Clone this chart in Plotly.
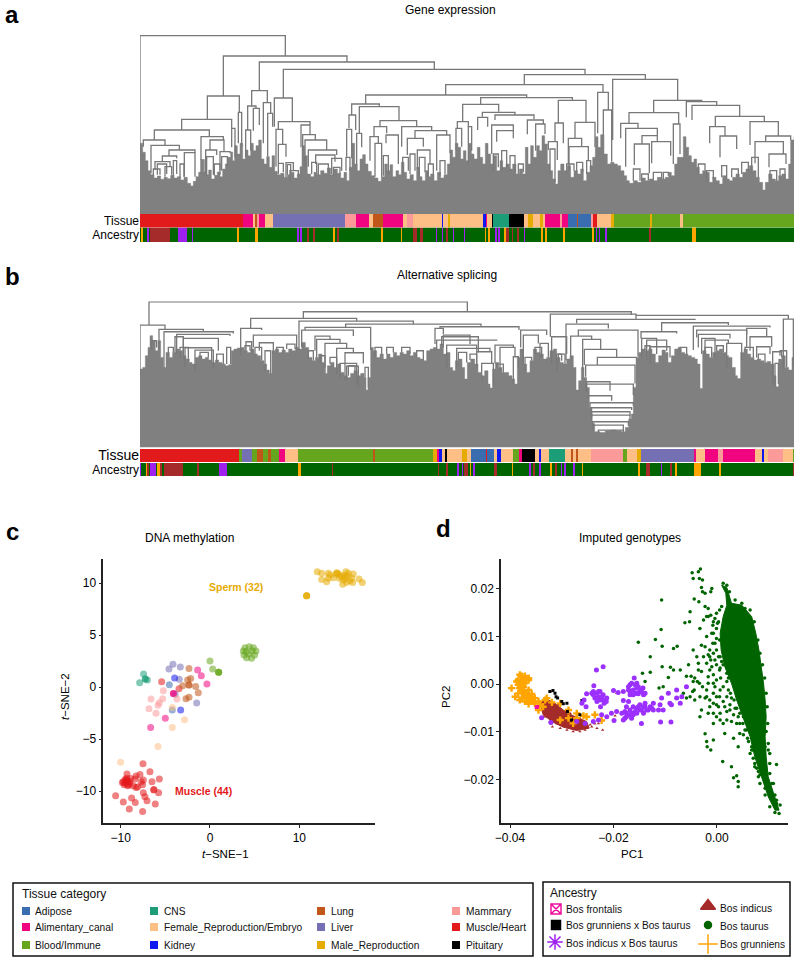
import plotly.graph_objects as go

FONT = "Liberation Sans, Arial, sans-serif"
GREY = "#808080"
W, H = 800, 962

# tissue and ancestry categories
tissue_names = ["Adipose", "Alimentary_canal", "Blood/Immune", "CNS", "Female_Reproduction/Embryo", "Kidney",
                "Lung", "Liver", "Male_Reproduction", "Mammary", "Muscle/Heart", "Pituitary"]
tissue_colors = ["#3A6DB0", "#F0047F", "#66A61E", "#1B9E77", "#FDBF86", "#1018F0",
                 "#C0561A", "#7570B3", "#E6AB02", "#FB9A99", "#E31A1C", "#000000"]
anc_names = ["Bos frontalis", "Bos grunniens x Bos taurus", "Bos indicus x Bos taurus",
             "Bos indicus", "Bos taurus", "Bos grunniens"]
anc_colors = ["#F0109F", "#000000", "#A020F0", "#A52A2A", "#006400", "#FFA500"]

AD, AL, BL, CN, FE, KI, LU, LI, MA, MM, MU, PI = range(12)
FR, BX, IX, IN, TA, GR = range(6)

# --- panel a: gene expression, links are (left, right, height, left end, right end)
expr_links = [
    (420, 856, 535, 212, 474), (670, 1041, 474, 354, 456), (778, 1303, 456, 370, 434), (850, 1755, 434, 348, 418),
    (1573, 1936, 418, 388, 404), (1337, 1809, 388, 357, 365), (1097, 1580, 357, 330, 350), (1442, 1717, 349, 329, 341),
    (1388, 1496, 329, 277, 307), (1675, 1758, 341, 273, 275), (622, 718, 354, 284, 305), (545, 695, 284, 252, 257),
    (463, 628, 252, 222, 232), (430, 495, 222, 202, 206), (453, 538, 206, 122, 192), (507, 585, 192, 174, 184),
    (487, 530, 174, 157, 167), (465, 510, 157, 132, 142), (553, 585, 184, 112, 112), (603, 670, 232, 162, 222),
    (630, 672, 222, 192, 187), (617, 650, 192, 122, 177), (660, 690, 187, 132, 182), (695, 705, 257, 200, 170),
    (715, 725, 305, 212, 202), (755, 802, 370, 324, 334), (743, 768, 324, 252, 317), (760, 778, 317, 250, 267),
    (737, 752, 252, 170, 190), (790, 812, 334, 212, 302), (803, 818, 302, 172, 262), (823, 877, 348, 262, 277),
    (835, 930, 277, 254, 267), (903, 930, 267, 200, 238), (908, 946, 238, 192, 222), (915, 980, 222, 142, 192),
    (925, 1010, 192, 142, 177), (947, 1005, 177, 150, 157), (828, 848, 254, 142, 207), (835, 858, 209, 152, 172),
    (858, 880, 154, 110, 132), (995, 1025, 167, 120, 130), (1055, 1138, 330, 297, 322), (1047, 1067, 297, 257, 252),
    (1040, 1055, 254, 172, 167), (1078, 1197, 322, 242, 280), (1070, 1085, 242, 150, 200), (1140, 1250, 280, 262, 262),
    (1122, 1160, 262, 232, 242), (1110, 1135, 232, 160, 212), (1125, 1145, 212, 112, 112), (1158, 1195, 237, 212, 150),
    (1205, 1295, 262, 202, 250), (1245, 1340, 250, 227, 237), (1222, 1270, 227, 177, 202), (1252, 1290, 192, 135, 150),
    (1310, 1350, 237, 130, 182), (1372, 1405, 277, 257, 262), (1368, 1385, 257, 192, 202), (1405, 1415, 262, 150, 190),
    (1447, 1545, 305, 292, 297), (1433, 1463, 290, 252, 262), (1485, 1602, 297, 282, 284), (1490, 1540, 250, 217, 227),
    (1475, 1540, 267, 180, 250), (1582, 1630, 282, 239, 270), (1607, 1635, 270, 190, 240), (1665, 1690, 273, 217, 212),
    (1645, 1672, 217, 192, 162), (1725, 1785, 275, 227, 200), (1705, 1745, 227, 150, 202), (1707, 1765, 202, 130, 160),
    (1793, 1825, 365, 242, 312), (1810, 1835, 312, 237, 157), (1838, 2033, 404, 222, 341), (1961, 2105, 341, 304, 337),
    (1887, 2036, 304, 272, 270), (1862, 1914, 272, 227, 257), (1877, 1972, 257, 142, 235), (1926, 1972, 235, 210, 217),
    (1903, 1948, 210, 147, 122), (1955, 2012, 217, 152, 175), (2020, 2040, 270, 150, 180), (2059, 2150, 337, 290, 326),
    (2076, 2219, 326, 282, 293), (2146, 2293, 293, 262, 277), (2129, 2175, 262, 212, 234), (2160, 2210, 234, 170, 195),
    (2250, 2335, 277, 207, 234), (2297, 2372, 234, 217, 222), (2265, 2350, 217, 152, 180), (2307, 2358, 180, 140, 150),
    (460, 480, 135, 115, 118), (472, 500, 150, 118, 120), (495, 515, 142, 112, 118), (520, 530, 160, 110, 120),
    (540, 552, 150, 110, 112), (603, 612, 162, 120, 130), (620, 640, 172, 115, 118), (643, 660, 150, 115, 118),
    (665, 682, 172, 130, 140), (835, 850, 152, 120, 125), (862, 872, 148, 118, 120), (870, 895, 130, 100, 110),
    (935, 950, 155, 120, 125), (955, 985, 150, 115, 125), (1000, 1020, 140, 110, 118), (1038, 1050, 170, 130, 130),
    (1150, 1165, 175, 115, 120), (1208, 1225, 170, 120, 130), (1230, 1245, 180, 120, 130), (1258, 1275, 170, 110, 125),
    (1285, 1300, 150, 110, 115), (1320, 1335, 160, 115, 120), (1480, 1495, 180, 130, 140), (1505, 1520, 190, 130, 140),
    (1530, 1545, 175, 130, 125), (1555, 1570, 150, 120, 125), (1700, 1722, 150, 125, 130), (1730, 1748, 155, 120, 125),
    (1760, 1772, 160, 120, 130), (1650, 1665, 195, 120, 95), (1900, 1920, 135, 100, 100), (1925, 1945, 120, 100, 100),
    (1960, 1985, 125, 100, 105), (1990, 2005, 125, 105, 115), (2095, 2115, 150, 120, 130), (2120, 2140, 130, 95, 105),
    (2165, 2180, 145, 110, 105), (2195, 2215, 135, 110, 115), (2225, 2245, 155, 120, 130), (2255, 2275, 170, 130, 110),
    (2310, 2330, 130, 105, 100), (2340, 2355, 135, 115, 105),
]
# top of the solid mass of leaves (position, height)
expr_mass = [
    (420, 212), (428, 185), (436, 160), (444, 130), (452, 118), (462, 108), (472, 114), (482, 104), (492, 110), (502, 106),
    (512, 116), (522, 108), (532, 112), (542, 102), (552, 110), (562, 92), (572, 84), (580, 98), (588, 112), (596, 125),
    (604, 160), (610, 128), (618, 118), (626, 132), (634, 105), (644, 116), (652, 126), (660, 112), (668, 135), (676, 150),
    (684, 170), (692, 186), (698, 160), (704, 205), (712, 180), (720, 212), (728, 165), (736, 192), (744, 175), (752, 212),
    (760, 190), (768, 205), (776, 222), (784, 165), (792, 150), (800, 172), (808, 140), (816, 175), (824, 128), (832, 118),
    (842, 122), (852, 110), (862, 118), (872, 125), (882, 108), (892, 120), (900, 142), (906, 205), (914, 175), (922, 120),
    (932, 112), (942, 125), (952, 118), (962, 130), (972, 122), (982, 138), (992, 118), (1002, 135), (1012, 122), (1022, 108),
    (1032, 125), (1040, 100), (1048, 140), (1056, 212), (1064, 150), (1072, 130), (1080, 165), (1088, 178), (1096, 150),
    (1104, 128), (1114, 115), (1124, 108), (1134, 98), (1144, 112), (1154, 150), (1162, 130), (1170, 148), (1178, 112),
    (1188, 130), (1196, 118), (1204, 155), (1212, 125), (1220, 105), (1230, 118), (1240, 100), (1250, 140), (1258, 112),
    (1266, 100), (1276, 130), (1284, 112), (1292, 120), (1302, 100), (1312, 125), (1322, 108), (1332, 118), (1342, 150),
    (1350, 192), (1358, 170), (1366, 212), (1374, 200), (1382, 165), (1390, 190), (1398, 160), (1406, 212), (1414, 180),
    (1422, 165), (1432, 200), (1440, 170), (1448, 150), (1456, 212), (1464, 180), (1472, 150), (1480, 175), (1490, 130),
    (1500, 160), (1508, 140), (1518, 150), (1528, 135), (1538, 150), (1548, 120), (1558, 135), (1568, 120), (1576, 200),
    (1584, 150), (1592, 205), (1600, 170), (1610, 205), (1618, 190), (1626, 235), (1634, 210), (1642, 150), (1650, 130),
    (1658, 105), (1666, 90), (1674, 130), (1682, 150), (1692, 130), (1702, 145), (1712, 110), (1722, 130), (1732, 120),
    (1742, 135), (1750, 100), (1760, 125), (1770, 145), (1778, 170), (1786, 232), (1794, 200), (1802, 238), (1812, 180),
    (1822, 150), (1832, 155), (1842, 150), (1852, 145), (1862, 130), (1872, 115), (1880, 100), (1888, 92), (1900, 100),
    (1912, 95), (1924, 108), (1936, 100), (1948, 105), (1960, 100), (1972, 110), (1984, 105), (1996, 110), (2006, 125),
    (2014, 115), (2024, 150), (2032, 170), (2042, 170), (2050, 232), (2058, 200), (2066, 175), (2074, 155), (2082, 165),
    (2090, 140), (2098, 120), (2108, 130), (2118, 125), (2128, 95), (2138, 110), (2148, 100), (2158, 90), (2168, 115),
    (2178, 105), (2188, 100), (2198, 110), (2208, 120), (2218, 110), (2228, 125), (2238, 135), (2248, 145), (2258, 130),
    (2268, 110), (2278, 95), (2288, 72), (2296, 95), (2306, 120), (2316, 105), (2326, 100), (2336, 115), (2346, 120),
    (2356, 105), (2366, 150), (2372, 222), (2382, 232),
]
tissue_a_ends = [728, 760, 765, 770, 776, 795, 820, 1034, 1068, 1107, 1118, 1150, 1208, 1220, 1240, 1325, 1330, 1343, 1350,
                 1448, 1458, 1462, 1475, 1480, 1528, 1573, 1583, 1598, 1620, 1630, 1635, 1680, 1685, 1703, 1730, 1733,
                 1772, 1778, 1792, 1832, 1842, 1950, 1955, 2040, 2050, 2382]
tissue_a_cats = [MU, AL, FE, LU, MM, AL, FE, LI, MM, AL, FE, LU, AL, FE, MM, FE, KI, FE, MA,
                 FE, KI, AL, FE, PI, CN, PI, FE, MA, FE, MA, FE, AL, MM, AL, AD, LU,
                 AD, MM, MU, FE, MA, BL, MA, BL, FE, BL]
anc_a_start = [423, 440, 450, 535, 575, 710, 765, 892, 900, 920, 940, 1000, 1012, 1143, 1202, 1240, 1260, 1308, 1325, 1338,
               1358, 1392, 1455, 1465, 1485, 1495, 1512, 1518, 1535, 1552, 1572, 1622, 1635, 1690, 1775, 1788, 1797,
               1815, 1948, 2075]
anc_a_end = [430, 447, 510, 560, 580, 718, 775, 897, 905, 926, 946, 1006, 1016, 1150, 1205, 1250, 1270, 1312, 1330, 1345,
             1363, 1396, 1458, 1470, 1490, 1500, 1518, 1528, 1540, 1556, 1576, 1628, 1640, 1694, 1782, 1792, 1800,
             1820, 1952, 2087]
anc_a_cats = [GR, IX, IN, IX, IX, GR, GR, IX, IX, IN, IN, GR, IN, GR, GR, IN, IN, IX, IX, IN,
              IX, IX, GR, GR, IX, IX, GR, IN, IN, IN, IX, GR, GR, GR, GR, IX, IX,
              IX, IN, GR]

# --- panel b: alternative splicing
splice_links = [
    (447, 1402, 437, 367, 407), (420, 495, 367, 222, 354), (477, 610, 354, 292, 347), (492, 700, 347, 237, 342),
    (530, 690, 339, 280, 334), (550, 655, 327, 270, 290), (555, 635, 299, 240, 250), (585, 640, 292, 230, 240),
    (525, 550, 332, 280, 280), (910, 1894, 407, 387, 397), (752, 1070, 387, 357, 379), (722, 785, 357, 277, 352),
    (760, 890, 337, 300, 290), (778, 820, 314, 290, 280), (738, 755, 317, 290, 280), (795, 812, 290, 230, 220),
    (897, 1240, 379, 292, 370), (1037, 1443, 370, 360, 362), (915, 1112, 360, 352, 292), (905, 1060, 352, 300, 334),
    (945, 990, 334, 290, 324), (950, 1020, 324, 270, 312), (975, 1040, 312, 240, 297), (1010, 1060, 297, 220, 284),
    (1035, 1090, 284, 200, 252), (1020, 1070, 252, 210, 190), (1040, 1075, 244, 200, 180), (1095, 1105, 240, 210, 180),
    (1320, 1557, 362, 357, 352), (1305, 1330, 357, 310, 340), (1310, 1490, 322, 292, 320), (1325, 1435, 332, 307, 285),
    (1330, 1410, 337, 300, 310), (1340, 1430, 307, 240, 290), (1370, 1470, 297, 240, 287), (1430, 1475, 287, 250, 252),
    (1445, 1480, 252, 200, 182), (1485, 1540, 307, 252, 300), (1500, 1545, 300, 230, 272), (1540, 1555, 272, 187, 240),
    (1562, 1640, 352, 300, 337), (1570, 1615, 337, 250, 312), (1620, 1645, 312, 270, 270), (1651, 1908, 400, 332, 396),
    (1908, 2365, 396, 384, 385), (1730, 2085, 384, 372, 382), (1698, 1825, 370, 262, 357), (1735, 1914, 352, 334, 272),
    (1712, 1775, 334, 267, 324), (1748, 1802, 324, 232, 294), (1753, 1850, 294, 247, 270), (1792, 1910, 270, 247, 270),
    (1757, 1905, 247, 212, 192), (1760, 1830, 197, 167, 170), (1758, 1900, 190, 167, 157), (1765, 1835, 155, 145, 140),
    (1770, 1900, 134, 120, 125), (1772, 1895, 119, 105, 112), (1775, 1890, 107, 90, 95), (1775, 1890, 97, 80, 85),
    (1778, 1885, 77, 62, 65), (1780, 1870, 67, 50, 50), (1795, 1870, 52, 45, 45), (1985, 2185, 374, 347, 367),
    (1923, 2030, 347, 327, 342), (1925, 1970, 327, 270, 280), (1940, 2000, 322, 260, 290), (1950, 2010, 302, 250, 270),
    (2080, 2310, 364, 292, 360), (2090, 2240, 352, 330, 339), (2095, 2190, 339, 300, 327), (2105, 2145, 327, 280, 270),
    (2115, 2185, 322, 280, 312), (2180, 2225, 312, 240, 262), (2240, 2300, 357, 300, 332), (2250, 2315, 332, 290, 302),
    (2270, 2310, 302, 270, 280), (2318, 2345, 287, 190, 270), (2325, 2335, 252, 185, 190), (2350, 2380, 385, 237, 242),
    (1655, 1700, 332, 250, 280), (1670, 1685, 280, 230, 260),
    (455, 470, 320, 290, 300), (505, 520, 300, 275, 285), (540, 565, 300, 270, 260), (600, 625, 285, 265, 270),
    (650, 670, 280, 255, 250), (680, 692, 300, 250, 250), (735, 750, 305, 285, 290), (765, 785, 300, 270, 260),
    (830, 850, 300, 285, 290), (860, 885, 310, 295, 295), (925, 940, 290, 265, 260), (960, 975, 275, 255, 222),
    (990, 1010, 270, 250, 245), (1045, 1065, 245, 215, 225), (1125, 1145, 300, 270, 280), (1160, 1180, 300, 280, 285),
    (1205, 1230, 300, 285, 280), (1250, 1270, 290, 270, 260), (1375, 1400, 285, 260, 255), (1410, 1430, 280, 262, 240),
    (1490, 1510, 250, 240, 225), (1575, 1595, 270, 225, 260), (1605, 1625, 300, 280, 270), (1675, 1695, 280, 255, 250),
    (1935, 1950, 305, 290, 295), (2040, 2060, 300, 285, 280), (2115, 2135, 300, 280, 270), (2150, 2170, 305, 290, 285),
    (2235, 2260, 300, 290, 270), (2275, 2295, 280, 262, 255), (2340, 2360, 290, 275, 240),
]
splice_mass = [
    (420, 235), (428, 240), (436, 275), (444, 300), (450, 335), (458, 320), (466, 290), (474, 320), (482, 270), (490, 240),
    (498, 285), (508, 270), (518, 285), (528, 295), (538, 290), (548, 275), (558, 265), (568, 255), (576, 250), (586, 270),
    (596, 275), (606, 265), (616, 270), (626, 262), (636, 255), (646, 262), (656, 255), (666, 250), (676, 245), (686, 248),
    (694, 290), (702, 295), (712, 298), (722, 300), (732, 290), (742, 285), (752, 295), (762, 280), (772, 275), (782, 260),
    (792, 250), (800, 232), (808, 222), (816, 290), (826, 295), (836, 285), (846, 292), (856, 285), (866, 295), (876, 290),
    (886, 300), (896, 295), (906, 315), (916, 300), (926, 270), (936, 260), (946, 270), (956, 280), (966, 255), (974, 222),
    (982, 245), (992, 255), (1002, 240), (1012, 250), (1022, 225), (1032, 215), (1042, 210), (1052, 222), (1062, 230),
    (1072, 215), (1082, 222), (1092, 210), (1098, 172), (1104, 210), (1112, 300), (1120, 290), (1130, 270), (1140, 280),
    (1150, 265), (1160, 280), (1170, 270), (1180, 285), (1190, 275), (1200, 285), (1210, 280), (1220, 290), (1230, 275),
    (1240, 285), (1250, 270), (1260, 265), (1270, 260), (1280, 290), (1290, 295), (1300, 300), (1310, 295), (1320, 310),
    (1330, 280), (1340, 285), (1350, 240), (1358, 230), (1366, 260), (1376, 265), (1386, 240), (1394, 205), (1402, 255),
    (1412, 265), (1424, 250), (1434, 225), (1444, 215), (1454, 230), (1464, 190), (1470, 178), (1478, 235), (1486, 255),
    (1496, 240), (1506, 225), (1516, 225), (1526, 215), (1536, 205), (1544, 190), (1552, 270), (1560, 295), (1570, 250),
    (1580, 225), (1590, 260), (1600, 295), (1610, 285), (1620, 280), (1630, 265), (1640, 270), (1650, 290), (1660, 295),
    (1670, 270), (1680, 255), (1690, 250), (1700, 265), (1710, 275), (1720, 240), (1728, 172), (1736, 200), (1744, 240),
    (1752, 210), (1760, 180), (1768, 120), (1776, 72), (1784, 47), (1800, 45), (1816, 50), (1832, 52), (1848, 50),
    (1864, 47), (1876, 60), (1886, 85), (1894, 100), (1900, 180), (1908, 270), (1916, 285), (1926, 295), (1936, 290),
    (1946, 295), (1956, 280), (1966, 255), (1976, 275), (1986, 292), (1996, 285), (2004, 255), (2014, 275), (2024, 295),
    (2034, 300), (2044, 285), (2054, 280), (2064, 275), (2074, 270), (2084, 265), (2092, 250), (2100, 177), (2108, 290),
    (2118, 280), (2128, 270), (2138, 285), (2148, 290), (2158, 295), (2168, 285), (2178, 275), (2186, 270), (2196, 240),
    (2206, 215), (2212, 207), (2222, 285), (2232, 295), (2242, 280), (2252, 270), (2262, 262), (2272, 265), (2282, 260),
    (2292, 255), (2302, 258), (2312, 250), (2322, 215), (2328, 182), (2336, 265), (2346, 275), (2356, 240), (2366, 232),
    (2376, 270), (2382, 282),
]
tissue_b_ends = [718, 725, 756, 770, 790, 805, 813, 838, 856, 895, 1118, 1125, 1300, 1310, 1318, 1325, 1335, 1342, 1385,
                 1400, 1412, 1458, 1462, 1482, 1492, 1502, 1540, 1558, 1565, 1605, 1618, 1622, 1648, 1695, 1712, 1718,
                 1728, 1735, 1773, 1870, 1882, 1910, 1922, 2082, 2088, 2115, 2155, 2170, 2265, 2285, 2292, 2305, 2348,
                 2378, 2382]
tissue_b_cats = [MU, BL, LI, BL, LU, BL, LU, BL, AL, FE, BL, LU, BL, MA, AL, KI, FE, PI, FE,
                 MA, FE, AD, MU, AD, FE, KI, FE, BL, AL, PI, FE, KI, FE, CN, FE, LU,
                 FE, LU, FE, MM, BL, FE, MA, LI, AL, FE, AL, MM, AL, FE, KI, FE, MM,
                 FE, BL]
anc_b_start = [420, 437, 442, 450, 470, 480, 492, 590, 658, 895, 995, 1315, 1338, 1372, 1385, 1392, 1410, 1420, 1482,
               1535, 1588, 1600, 1618, 1650, 1665, 1682, 1693, 1720, 1745, 1915, 1938, 1983, 2010, 2025, 2082, 2158, 2380]
anc_b_end = [424, 442, 448, 468, 480, 485, 548, 597, 680, 902, 1000, 1318, 1343, 1378, 1390, 1403, 1414, 1425, 1492,
             1540, 1592, 1606, 1623, 1655, 1672, 1687, 1697, 1725, 1750, 1920, 1949, 1987, 2015, 2030, 2103, 2163, 2382]
anc_b_cats = [IX, GR, IN, IX, GR, IN, IN, IN, IX, GR, IN, IN, IN, IX, IX, IN, GR, IX, IN,
              GR, IX, IN, IX, GR, IN, IX, IX, IX, GR, GR, IN, IX, IN, GR, GR, GR, IN]

# --- panel c: t-SNE of DNA methylation
muscle_x = [-7.5, -9.29, -6.72, -7.84, -8.28, -8.4, -5.67, -6.49, -7.46, -9.7, -9.33, -8.96, -9.51, -9.14, -9.81, -9.33,
            -8.28, -7.54, -6.27, -5.75, -7.46, -7.28, -7.05, -10.56, -8.77, -9.7, -8.36, -6.12, -9.03, -7.54,
            -9.4, -9.0, -9.6, -9.2, -8.9, -9.5, -8.6, -7.7, -6.3, -8.1, -9.3, -9.2, -5.41, -3.47]
muscle_y = [-7.37, -8.37, -8.14, -8.4, -8.56, -8.85, -8.85, -9.1, -8.94, -9.1, -8.94, -9.1, -9.26, -9.42, -9.17, -8.78,
            -9.65, -9.39, -9.84, -10.16, -10.16, -10.54, -10.93, -10.45, -10.67, -11.06, -11.09, -11.25, -11.73, -11.96,
            -9.0, -9.3, -9.4, -9.0, -8.8, -8.9, -9.5, -9.1, -9.9, -9.6, -9.2, -9.5, 0.51, -0.16]
sperm_x = [12.01, 12.5, 13.25, 14.18, 15.22, 16.04, 12.5, 13.06, 13.81, 14.48, 14.93, 15.37, 15.86, 16.68, 17.05, 15.97,
           15.3, 14.85, 14.55, 13.43, 14.1, 15.11, 15.49, 14.29, 15.11, 14.74, 15.67, 13.25, 10.82, 10.82, 10.82]
sperm_y = [11.09, 10.93, 10.93, 10.99, 11.09, 10.87, 10.35, 10.13, 10.51, 10.45, 10.29, 10.67, 10.45, 10.38, 10.06, 10.06,
           10.06, 9.87, 10.77, 10.77, 10.87, 10.77, 10.93, 10.93, 10.45, 10.61, 10.22, 10.45, 8.78, 8.78, 8.78]
blood_x = [4.4, 3.92, 4.85, 3.73, 5.15, 3.81, 5.0, 4.1, 4.66, 4.33, 4.03, 4.7, 0.0, 0.3, 0.97, 0.97, 0.97]
blood_y = [3.88, 3.78, 3.78, 3.46, 3.46, 3.08, 3.08, 2.82, 2.76, 3.17, 3.4, 3.46, 2.5, 1.73, 1.41, 1.41, 1.41]
cns_x = [-7.43, -7.24, -7.24, -7.87, -7.01]
cns_y = [1.25, 0.77, 0.77, 0.42, 0.67]
liver_x = [-4.14, -4.59, -3.32, -3.43, -1.49, -3.9]
liver_y = [2.18, 1.73, 1.92, 0.74, -1.54, -0.7]
lung_x = [-2.35, -2.16, -2.5, -3.06, -2.35, -2.35, -1.6, -1.31, -2.69, -2.35]
lung_y = [1.79, 0.83, 0.67, 0.13, 0.19, 0.19, 0.06, -0.54, -1.12, -0.99]
alimentary_x = [-1.38, -0.97, -0.34, -4.1, -4.1, -5.0, -6.64]
alimentary_y = [1.63, 1.09, 0.29, -0.61, -0.61, -3.01, -3.88]
adipose_x = [-4.55, -4.22]
adipose_y = [0.22, -2.21]
kidney_x = [-3.96, -3.28]
kidney_y = [0.87, -2.21]
mammary_x = [-6.6, -5.22, -5.3, -3.69, -5.67, -5.82, -6.83, -6.04]
mammary_y = [-1.15, -0.35, -1.12, -1.15, -1.51, -1.76, -2.08, -2.53]
female_x = [-4.22, -2.84, -4.22, -5.82, -10.0]
female_y = [-1.96, -3.14, -3.88, -5.71, -7.24]

# --- panel d: PCA of imputed genotypes, the solid clouds are kept as outlines
taurus_core_x = [.0009, .0019, .0028, .0048, .0067, .0075, .0081, .0086, .0090, .0093, .0095, .0093, .0095, .0099,
                 .0112, .0120, .0112, .0099, .0086, .0073, .0064, .0050, .0038, .0028, .0015, .0008, .0006, .0012,
                 .0019, .0017]
taurus_core_y = [.0208, .0203, .0170, .0166, .0142, .0107, .0072, .0037, .0002, -.0033, -.0068, -.0110, -.0152, -.0194,
                 -.0236, -.0264, -.0264, -.0236, -.0194, -.0152, -.0110, -.0068, -.0033, .0002, .0037, .0072, .0107,
                 .0142, .0166, .0191]
taurus_x = [-.0048, -.0036, -.0032, -.0046, -.0034, -.0028, -.0030, -.0028, -.0044, -.0035, -.0023, -.0012, -.0010,
            -.0023, -.0017, -.0052, -.0107, -.0062, -.0053, -.0108, -.0152, -.0119, -.0106, -.0084, -.0077, -.0129,
            -.0106, -.0090, -.0084, -.0055, -.0071, -.0094, -.0129, -.0144, -.0139, -.0155, -.0112, -.0104, -.0059,
            -.0050, -.0036, -.0038, -.0034, -.0044, -.0047, -.0046, -.0039, -.0030, -.0020, -.0026, -.0020, -.0014,
            -.0010, -.0017, -.0020, -.0023, -.0030, -.0017, -.0033, -.0001, .0012, .0019, -.0023, -.0020, -.0007,
            -.0012, -.0019, .0015, .0051, .0032, .0054, .0041, .0011, .0028, .0038, .0032, .0041, .0041, .0115, .0102,
            -.0007, -.0001, .0015, -.0007, .0006, -.0033, -.0043, -.0052, -.0059, -.0065,
            .0070, .0083, .0093, .0080, .0070, .0064, .0073, .0093, .0080, .0099, .0093, .0112, .0115, .0120, .0112,
            -.0017, -.0007, -.0001, -.0010, -.0004, -.0014, -.0004, .0005, -.0001, -.0007, .0006, -.0014, .0003, .0025,
            .0038, .0044,
            -.0012, -.0004, -.0001, -.0008, .0001, -.0007, -.0001, -.0008, -.0001, -.0017, -.0007, .0003, -.0012, .0009,
            -.0001, -.0014, .0006, -.0007, .0007, .0019, -.0017, -.0004, .0012, .0022, -.0020, -.0007, .0005, .0019,
            .0028, -.0014, -.0001, .0012, .0025, .0035, -.0007, .0019, .0032, .0041, .0006, .0028, .0044, .0051, .0061,
            .0067, .0070, .0077, .0083, .0102, .0099, .0102, .0106, .0086, .0080, .0093, -.0026, -.0020, -.0033, -.0023,
            -.0036, -.0030, -.0043, -.0028, -.0046,
            .0079, .0083, .0088, .0092, .0095, .0097, .0098, .0095, .0099, .0064, .0072, .0005, .0009, .0003, .0005,
            .0006, .0012, .0019, .0022, .0026, .0033, .0038, .0044, .0050, .0057, .0059, .0067, .0073, .0083, .0093,
            .0102, .0115, .0122, .0109, .0012, .0019, .0024, .0035, .0048, .0054]
taurus_y = [.0234, .0236, .0242, .0222, .0222, .0219, .0203, .0194, .0179, .0173, .0191, .0194, .0201,
            .0163, .0159, .0152, .0177, .0129, .0131, .0115, .0088, .0094, .0080, .0075, .0080, .0058,
            .0037, .0036, .0030, .0041, .0030, .0014, .0025, .0023, .0006, .0003, -.0008, -.0005, .0017,
            .0017, .0030, .0006, .0002, -.0012, -.0015, .0072, .0058, .0082, .0100, .0058, .0044, .0072,
            .0037, .0016, -.0012, -.0029, -.0054, -.0061, -.0068, -.0068, -.0082, -.0075, -.0104, -.0120, -.0117,
            -.0138, -.0131, -.0103, -.0068, -.0113, -.0096, -.0131, -.0162, -.0173, -.0192, -.0196, -.0204, -.0215, -.0168, -.0166,
            -.0082, -.0026, -.0047, -.0040, -.0061, -.0026, -.0033, -.0026, -.0029, -.0019,
            -.0110, -.0117, -.0131, -.0145, -.0138, -.0145, -.0173, -.0176, -.0194, -.0208, -.0218, -.0232, -.0243, -.0271, -.0269,
            .0142, .0131, .0117, .0107, .0086, .0058, .0051, .0030, .0009, .0002, -.0012, -.0033, -.0047, -.0054,
            -.0082, -.0103,
            .0145, .0138, .0149, .0124, .0128, .0107, .0096, .0086, .0072, .0062, .0065, .0058, .0051, .0048,
            .0041, .0030, .0034, .0020, .0013, .0006, .0002, -.0005, -.0005, -.0012, -.0026, -.0019, -.0026, -.0026,
            -.0029, -.0047, -.0043, -.0036, -.0043, -.0050, -.0061, -.0057, -.0064, -.0068, -.0075, -.0078, -.0082, -.0106, -.0120,
            -.0131, -.0155, -.0176, -.0190, -.0145, -.0124, -.0187, -.0208, -.0166, -.0183, -.0204, .0135, .0142, .0117, .0079,
            .0044, .0027, .0013, -.0005, .0006,
            .0093, .0065, .0041, .0013, -.0019, -.0047, -.0082, -.0099, -.0138, .0156, .0131, .0156, .0163, .0131, .0093,
            .0058, .0041, .0023, .0013, -.0019, -.0033, -.0050, -.0061, -.0082, -.0096, -.0113, -.0138, -.0166, -.0208, -.0232,
            -.0257, -.0250, -.0253, -.0208, .0212, .0208, .0194, .0177, .0170, .0159]
indicus_core_x = [-.0342, -.0329, -.0313, -.0297, -.0278, -.0252, -.0247, -.0271, -.0297, -.0316, -.0336]
indicus_core_y = [-.0038, -.0031, -.0040, -.0054, -.0066, -.0078, -.0092, -.0097, -.0090, -.0080, -.0064]
indicus_x = [-.0318, -.0221, -.0232, -.0242, -.0261, -.0274, -.0323, -.0336, -.0310, -.0194, -.0197, -.0303, -.0321,
             -.0265, -.0252, -.0284, -.0229, -.0323, -.0332, -.0303, -.0290, -.0278, -.0265, -.0255, -.0307, -.0284,
             -.0265, -.0245, -.0236]
indicus_y = [-.0089, -.0096, -.0092, -.0089, -.0092, -.0094, -.0071, -.0068, -.0082, -.0019, -.0066, -.0036, -.0015,
             -.0082, -.0092, -.0089, -.0082, -.0078, -.0068, -.0092, -.0096, -.0099, -.0099, -.0096, -.0043, -.0061,
             -.0071, -.0085, -.0083]
cross_x = [-.0233, -.0220, -.0238, -.0252, -.0257, -.0253, -.0261, -.0242, -.0232, -.0226, -.0220, -.0213, -.0236, -.0226,
           -.0218, -.0225, -.0239, -.0229, -.0223, -.0232, -.0200, -.0191, -.0181, -.0171, -.0168, -.0160, -.0155, -.0149,
           -.0139, -.0158, -.0168, -.0181, -.0171, -.0162, -.0149, -.0139, -.0129, -.0126, -.0123, -.0146, -.0155, -.0168,
           -.0178, -.0184, -.0194, -.0204, -.0213, -.0223, -.0229, -.0239, -.0255, -.0271, -.0321, -.0339, -.0199, -.0146,
           -.0109, -.0089, -.0123, -.0110, -.0107, -.0094, -.0078, -.0068, -.0078, -.0091, -.0104, -.0113, -.0059, -.0071,
           -.0088, -.0155, -.0162, -.0146, -.0142, -.0155, -.0175, -.0165, -.0178, -.0155, -.0142, -.0133, -.0165, -.0175,
           -.0142, -.0149,
           -.0239, -.0220, -.0229, -.0214, -.0171, -.0165, -.0158, -.0152, -.0168, -.0162, -.0152, -.0143, -.0175, -.0168,
           -.0158, -.0152, -.0139, -.0136, -.0181, -.0162]
cross_y = [.0030, .0037, -.0003, -.0020, -.0033, -.0047, -.0040, -.0019, -.0019, -.0015, -.0022, -.0029, -.0029, -.0033,
           -.0040, -.0047, -.0022, -.0026, -.0026, -.0036, -.0013, -.0017, -.0015, -.0012, -.0001, .0013, .0002, -.0012,
           -.0019, -.0019, -.0022, -.0034, -.0036, -.0047, -.0043, -.0047, -.0047, -.0050, -.0054, -.0054, -.0061, -.0064,
           -.0071, -.0061, -.0057, -.0061, -.0068, -.0064, -.0075, -.0078, -.0082, -.0078, -.0080, -.0070, -.0076, -.0082,
           -.0079, -.0079, -.0040, -.0043, -.0029, -.0019, -.0012, -.0026, -.0029, -.0040, -.0054, -.0054, -.0005, -.0040,
           -.0043, -.0008, -.0012, -.0015, -.0022, -.0019, -.0061, -.0061, -.0057, -.0050, -.0061, -.0054, -.0071, -.0068,
           -.0047, -.0054,
           -.0015, -.0033, -.0015, -.0036, -.0005, .0002, -.0001, -.0005, -.0015, -.0022, -.0020, -.0008, -.0047, -.0054,
           -.0057, -.0047, -.0040, -.0054, -.0075, -.0064]
grunniens_x = [-.0377, -.0384, -.0374, -.0364, -.0381, -.0371, -.0382, -.0397, -.0390, -.0377, -.0368, -.0358, -.0352, -.0377,
               -.0371, -.0361, -.0352, -.0342, -.0345, -.0384, -.0371, -.0364, -.0374, -.0381, -.0358, -.0368, -.0329, -.0303,
               -.0287, -.0271, -.0258, -.0236, -.0223, -.0271, -.0303, -.0252, -.0287, -.0278, -.0364, -.0374, -.0361, -.0355,
               -.0387, -.0377, -.0371, -.0384, -.0374, -.0364, -.0358, -.0381, -.0364, -.0345, -.0336, -.0332, -.0319]
grunniens_y = [.0017, .0009, .0013, .0009, .0002, .0002, -.0008, -.0008, -.0026, -.0015, -.0019, -.0026, -.0029, -.0029,
               -.0036, -.0036, -.0040, -.0043, -.0054, -.0001, -.0022, -.0029, -.0005, .0020, -.0033, -.0026, -.0029, -.0040,
               -.0054, -.0061, -.0066, -.0064, -.0076, -.0071, -.0075, -.0068, -.0071, -.0082, .0013, .0006, -.0026, -.0036,
               .0006, .0006, .0017, -.0019, -.0012, -.0012, -.0020, -.0033, -.0041, -.0036, -.0047, -.0033, -.0038]
yak_cross_x = [-.0317, -.0323, -.0313, -.0311, -.0308, -.0300, -.0290, -.0261, -.0265, -.0281, -.0289, -.0297]
yak_cross_y = [-.0013, -.0015, -.0019, -.0026, -.0029, -.0036, -.0040, -.0034, -.0064, -.0075, -.0057, -.0041]
frontalis_x = [-.0347, -.0349]
frontalis_y = [-.0047, -.0048]


def px_x(v):
    return v / W


def px_y(v):
    return 1 - v / H


def axis_pair(fig, n, left, right, top, bottom, xopts, yopts):
    sx = "" if n == 1 else str(n)
    hidden = dict(visible=False, fixedrange=True, automargin=False)
    fig.layout[f"xaxis{sx}"] = dict(hidden, domain=[px_x(left), px_x(right)], anchor=f"y{sx}", **xopts)
    fig.layout[f"yaxis{sx}"] = dict(hidden, domain=[px_y(bottom), px_y(top)], anchor=f"x{sx}", **yopts)
    return f"x{sx}", f"y{sx}"


def add_dendrogram(fig, links, mass, ax, ay):
    fig.add_trace(go.Scatter(x=[m[0] for m in mass], y=[m[1] for m in mass], mode="lines", fill="tozeroy",
                             fillcolor=GREY, line=dict(color=GREY, width=0.5, shape="hv"), xaxis=ax, yaxis=ay))
    xs, ys = [], []
    for left, right, top, end_l, end_r in links:
        xs += [left, left, right, right, None]
        ys += [end_l, top, top, end_r, None]
    fig.add_trace(go.Scatter(x=xs, y=ys, mode="lines", line=dict(color="#787878", width=1.3), xaxis=ax, yaxis=ay))


def discrete_scale(colors):
    n = len(colors)
    scale = []
    for i, c in enumerate(colors):
        scale += [[i / n, c], [(i + 1) / n, c]]
    return scale


def add_strip(fig, ends, cats, colors, ax, ay):
    fig.add_trace(go.Heatmap(x=[420] + ends, y=[0], z=[[c + 0.5 for c in cats]], zmin=0, zmax=len(colors),
                             colorscale=discrete_scale(colors), showscale=False, xaxis=ax, yaxis=ay))


def fill_ancestry(starts, stops, cats):
    # taurus is the background colour of the ancestry strip
    ends, out, pos = [], [], 420
    for a, b, c in sorted(zip(starts, stops, cats)):
        if a > pos:
            ends.append(a)
            out.append(TA)
        ends.append(b)
        out.append(c)
        pos = b
    if pos < 2382:
        ends.append(2382)
        out.append(TA)
    return ends, out


fig = go.Figure()
dend_x = dict(range=[420, 2382])

# panel a
ax, ay = axis_pair(fig, 1, 140, 794, 35, 214, dend_x, dict(range=[0, 537]))
add_dendrogram(fig, expr_links, expr_mass, ax, ay)
ax, ay = axis_pair(fig, 2, 140, 794, 214, 227.5, dend_x, dict(
    range=[-0.5, 0.5], visible=True, showgrid=False, zeroline=False, showline=False, ticklen=0,
    tickvals=[0], ticktext=["Tissue"], tickfont=dict(size=12)))
add_strip(fig, tissue_a_ends, tissue_a_cats, tissue_colors, ax, ay)
ax, ay = axis_pair(fig, 3, 140, 794, 227.5, 242, dend_x, dict(
    range=[-0.5, 0.5], visible=True, showgrid=False, zeroline=False, showline=False, ticklen=0,
    tickvals=[0], ticktext=["Ancestry"], tickfont=dict(size=12)))
add_strip(fig, *fill_ancestry(anc_a_start, anc_a_end, anc_a_cats), anc_colors, ax, ay)

# panel b
ax, ay = axis_pair(fig, 4, 140, 794, 301.4, 447.4, dend_x, dict(range=[0, 438]))
add_dendrogram(fig, splice_links, splice_mass, ax, ay)
ax, ay = axis_pair(fig, 5, 140, 794, 449, 462, dend_x, dict(
    range=[-0.5, 0.5], visible=True, showgrid=False, zeroline=False, showline=False, ticklen=0,
    tickvals=[0], ticktext=["Tissue"], tickfont=dict(size=14)))
add_strip(fig, tissue_b_ends, tissue_b_cats, tissue_colors, ax, ay)
ax, ay = axis_pair(fig, 6, 140, 794, 463, 476, dend_x, dict(
    range=[-0.5, 0.5], visible=True, showgrid=False, zeroline=False, showline=False, ticklen=0,
    tickvals=[0], ticktext=["Ancestry"], tickfont=dict(size=12)))
add_strip(fig, *fill_ancestry(anc_b_start, anc_b_end, anc_b_cats), anc_colors, ax, ay)

# panel c and d share the axis style
line_axis = dict(visible=True, showgrid=False, zeroline=False, showline=True, linecolor="#222222", linewidth=1.5,
                 ticks="outside", ticklen=3, tickwidth=1, tickcolor="#222222", tickfont=dict(size=12, color="black"))

ax, ay = axis_pair(fig, 7, 103.3, 375, 559.3, 823.3,
                   dict(line_axis, range=[-11.94, 18.47], tickvals=[-10, 0, 10]),
                   dict(line_axis, range=[-13.1, 12.28], tickvals=[-10, -5, 0, 5, 10]))
groups = [(muscle_x, muscle_y, MU), (sperm_x, sperm_y, MA), (blood_x, blood_y, BL), (cns_x, cns_y, CN),
          (liver_x, liver_y, LI), (lung_x, lung_y, LU), (alimentary_x, alimentary_y, AL), (adipose_x, adipose_y, AD),
          (kidney_x, kidney_y, KI), (mammary_x, mammary_y, MM), (female_x, female_y, FE)]
for gx, gy, cat in groups:
    fig.add_trace(go.Scatter(x=gx, y=gy, mode="markers", xaxis=ax, yaxis=ay,
                             marker=dict(color=tissue_colors[cat], size=7, opacity=0.55)))
fig.add_annotation(x=2.9, y=9.58, xref=ax, yref=ay, text="<b>Sperm (32)</b>", showarrow=False,
                   font=dict(size=10.5, color=tissue_colors[MA]))
fig.add_annotation(x=-0.75, y=-10.03, xref=ax, yref=ay, text="<b>Muscle (44)</b>", showarrow=False,
                   font=dict(size=10.5, color=tissue_colors[MU]))

ax, ay = axis_pair(fig, 8, 501, 788.3, 559.3, 823.3,
                   dict(line_axis, range=[-.04174, .01378], tickvals=[-.04, -.02, 0], tickformat=".2f"),
                   dict(line_axis, range=[-.02916, .02622], tickvals=[-.02, -.01, 0, .01, .02], tickformat=".2f"))
fig.add_trace(go.Scatter(x=taurus_core_x + taurus_core_x[:1], y=taurus_core_y + taurus_core_y[:1], mode="lines",
                         fill="toself", fillcolor=anc_colors[TA], line=dict(color=anc_colors[TA], width=1),
                         xaxis=ax, yaxis=ay))
fig.add_trace(go.Scatter(x=taurus_x, y=taurus_y, mode="markers", marker=dict(color=anc_colors[TA], size=3.5),
                         xaxis=ax, yaxis=ay))
fig.add_trace(go.Scatter(x=indicus_core_x + indicus_core_x[:1], y=indicus_core_y + indicus_core_y[:1], mode="lines",
                         fill="toself", fillcolor=anc_colors[IN], line=dict(color=anc_colors[IN], width=1),
                         xaxis=ax, yaxis=ay))
fig.add_trace(go.Scatter(x=indicus_x, y=indicus_y, mode="markers", xaxis=ax, yaxis=ay,
                         marker=dict(color=anc_colors[IN], size=3, symbol="triangle-up")))
fig.add_trace(go.Scatter(x=grunniens_x, y=grunniens_y, mode="markers", xaxis=ax, yaxis=ay,
                         marker=dict(color=anc_colors[GR], size=6, symbol="cross")))
fig.add_trace(go.Scatter(x=yak_cross_x, y=yak_cross_y, mode="markers", xaxis=ax, yaxis=ay,
                         marker=dict(color=anc_colors[BX], size=3, symbol="square")))
fig.add_trace(go.Scatter(x=frontalis_x, y=frontalis_y, mode="markers", xaxis=ax, yaxis=ay,
                         marker=dict(color=anc_colors[FR], size=3.5, symbol="square")))
fig.add_trace(go.Scatter(x=cross_x, y=cross_y, mode="markers", xaxis=ax, yaxis=ay,
                         marker=dict(color="#9B30FF", size=5)))

# legend keys and page level text, drawn in a page sized overlay axis
ax, ay = axis_pair(fig, 9, 0, W, 0, H, dict(range=[0, W]), dict(range=[H, 0]))
key_cols = [(26, 33), (154, 162), (321, 329), (456, 464)]
key_rows = [911, 927, 945]
key_x, key_y, key_c = [], [], []
for i, name in enumerate(tissue_names):
    col, row = key_cols[i // 3], key_rows[i % 3]
    key_x.append(col[0])
    key_y.append(row)
    key_c.append(tissue_colors[i])
    fig.add_annotation(x=col[1], y=row, xref=ax, yref=ay, text=name, showarrow=False, xanchor="left",
                       font=dict(size=10.2, color="#111111"))
fig.add_trace(go.Scatter(x=key_x, y=key_y, mode="markers", xaxis=ax, yaxis=ay,
                         marker=dict(symbol="square", size=8, color=key_c)))

anc_key_x = [556, 556, 555, 708, 708, 708]
anc_text_x = [564, 564, 564, 718, 718, 718]
anc_key_y = [909, 925, 942, 906, 925, 944]
anc_text_y = [909, 925, 943, 908, 926, 944]
anc_sym = ["square-x-open", "square", "asterisk-open", "triangle-up", "circle", "cross-thin-open"]
anc_size = [10, 9, 13, 13, 7, 14]
for i, name in enumerate(anc_names):
    fig.add_annotation(x=anc_text_x[i], y=anc_text_y[i], xref=ax, yref=ay, text=name, showarrow=False,
                       xanchor="left", font=dict(size=10.2, color="#111111"))
    fig.add_trace(go.Scatter(x=[anc_key_x[i]], y=[anc_key_y[i]], mode="markers", xaxis=ax, yaxis=ay,
                             marker=dict(symbol=anc_sym[i], size=anc_size[i], color=anc_colors[i],
                                         line=dict(color=anc_colors[i], width=1.5))))

for text, x, y, size in [("Tissue category", 20, 894, 12), ("Ancestry", 548, 893, 12)]:
    fig.add_annotation(x=x, y=y, xref=ax, yref=ay, text=text, showarrow=False, xanchor="left",
                       font=dict(size=size, color="#111111"))
for x0, x1, y0, y1 in [(13, 533, 883, 956), (543, 790, 882, 956)]:
    fig.add_shape(type="rect", xref=ax, yref=ay, x0=x0, x1=x1, y0=y0, y1=y1, line=dict(color="#111111", width=1.5))

# panel letters, titles and axis titles
for text, x, y in [("a", 12, 14), ("b", 12, 276), ("c", 12, 531), ("d", 443, 528)]:
    fig.add_annotation(x=x, y=y, xref=ax, yref=ay, text=f"<b>{text}</b>", showarrow=False,
                       font=dict(size=24, color="black"))
for text, x, y in [("Gene expression", 450, 10), ("Alternative splicing", 447, 275),
                   ("DNA methylation", 189, 538), ("Imputed genotypes", 630, 538)]:
    fig.add_annotation(x=x, y=y, xref=ax, yref=ay, text=text, showarrow=False,
                       font=dict(size=12, color="black"))
for text, x, y, angle in [("<i>t</i>−SNE−1", 225, 854, 0), ("<i>t</i>−SNE−2", 65, 697, -90),
                          ("PC1", 632, 854, 0), ("PC2", 446, 697, -90)]:
    fig.add_annotation(x=x, y=y, xref=ax, yref=ay, text=text, showarrow=False, textangle=angle,
                       font=dict(size=11.5, color="black"))

fig.update_layout(width=W, height=H, margin=dict(l=0, r=0, t=0, b=0), showlegend=False,
                  plot_bgcolor="rgba(0,0,0,0)", paper_bgcolor="white", font=dict(family=FONT, color="black", size=12))
fig.update_traces(hoverinfo="skip")

fig.write_html("out.html", post_script="document.body.style.margin='0';", config={"displayModeBar": False})
